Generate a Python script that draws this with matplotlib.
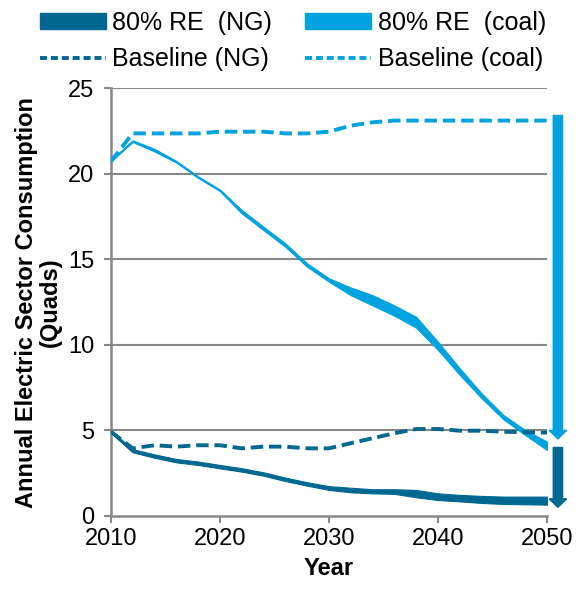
import matplotlib.pyplot as plt
from matplotlib.patches import Patch
from matplotlib.lines import Line2D

plt.rcParams['font.family'] = ['Liberation Sans', 'DejaVu Sans']

years = list(range(2010, 2051, 2))

# 80% RE scenarios, band low/high
coal_hi = [20.8, 21.95, 21.45, 20.75, 19.85, 19.08, 17.88, 16.9, 15.93, 14.76, 13.89,
           13.35, 12.9, 12.3, 11.64, 10.18, 8.63, 7.17, 5.9, 5.02, 4.34]
coal_lo = [20.7, 21.85, 21.3, 20.65, 19.75, 18.98, 17.68, 16.7, 15.73, 14.56, 13.69,
           12.9, 12.3, 11.7, 11.0, 9.7, 8.24, 6.88, 5.65, 4.73, 3.85]
ng_hi = [5.0, 3.9, 3.6, 3.33, 3.18, 2.98, 2.79, 2.55, 2.24, 1.97, 1.74,
         1.65, 1.56, 1.56, 1.52, 1.32, 1.23, 1.17, 1.13, 1.13, 1.13]
ng_lo = [4.85, 3.72, 3.4, 3.13, 2.98, 2.78, 2.59, 2.35, 2.04, 1.77, 1.52,
         1.38, 1.32, 1.29, 1.09, 0.93, 0.85, 0.76, 0.7, 0.68, 0.66]

# baselines
base_coal = [20.7, 22.35, 22.35, 22.35, 22.35, 22.45, 22.45, 22.45, 22.35, 22.35, 22.45,
             22.8, 23.0, 23.1, 23.1, 23.1, 23.1, 23.1, 23.1, 23.1, 23.1]
base_ng = [4.93, 3.95, 4.13, 4.05, 4.13, 4.13, 3.95, 4.05, 4.05, 3.95, 3.95,
           4.25, 4.54, 4.83, 5.08, 5.08, 4.98, 4.98, 4.92, 4.89, 4.87]

# reduction arrows at right edge: (x, start, end)
arrow_coal = (2051, 23.4, 4.5)
arrow_ng = (2051, 4.0, 0.5)

dark = '#006890'
light = '#00A3E0'
grey = '#888888'

fig = plt.figure(figsize=(5.77, 5.91), dpi=100)
ax = fig.add_axes([0.192, 0.127, 0.756, 0.724])

for v in range(5, 26, 5):
    ax.axhline(v, color=grey, lw=1.5, zorder=0)

ax.fill_between(years, coal_lo, coal_hi, color=light, lw=0.8, edgecolor=light, zorder=2)
ax.fill_between(years, ng_lo, ng_hi, color=dark, lw=0.8, edgecolor=dark, zorder=2)
ax.plot(years, base_coal, color=light, lw=2.8, dashes=(3.2, 1.5), zorder=3)
ax.plot(years, base_ng, color=dark, lw=2.8, dashes=(3.2, 1.5), zorder=3)

for (x, y0, y1), c in [(arrow_coal, light), (arrow_ng, dark)]:
    ax.arrow(x, y0, 0, y1 - y0, width=0.85, head_width=1.6, head_length=0.5,
             length_includes_head=True, color=c, clip_on=False, zorder=4)

ax.set_xlim(2010, 2050)
ax.set_ylim(0, 25)
ax.set_xticks(range(2010, 2051, 10))
ax.set_yticks(range(0, 26, 5))
for s in ['top', 'right']:
    ax.spines[s].set_visible(False)
for s in ['left', 'bottom']:
    ax.spines[s].set_color(grey)
    ax.spines[s].set_linewidth(1.8)
ax.tick_params(axis='both', colors=grey, labelcolor='black', labelsize=17,
               length=5, width=1.5, direction='out')
ax.tick_params(axis='y', pad=7)
ax.set_xlabel('Year', fontsize=17, fontweight='bold', labelpad=5)
ax.set_ylabel('Annual Electric Sector Consumption\n(Quads)', fontsize=17,
              fontweight='bold', labelpad=4, linespacing=1.05)

handles = [Patch(color=dark),
           Line2D([], [], color=dark, lw=2.8, dashes=(1.8, 1.0)),
           Patch(color=light),
           Line2D([], [], color=light, lw=2.8, dashes=(1.8, 1.0))]
labels = ['80% RE  (NG)', 'Baseline (NG)', '80% RE  (coal)', 'Baseline (coal)']
fig.legend(handles, labels, ncol=2, loc='upper left', bbox_to_anchor=(0.03, 1.02),
           frameon=False, fontsize=18, handlelength=2.64, handleheight=0.6,
           handletextpad=0.26, columnspacing=1.32, labelspacing=0.5)

fig.savefig('out.png', dpi=100)
